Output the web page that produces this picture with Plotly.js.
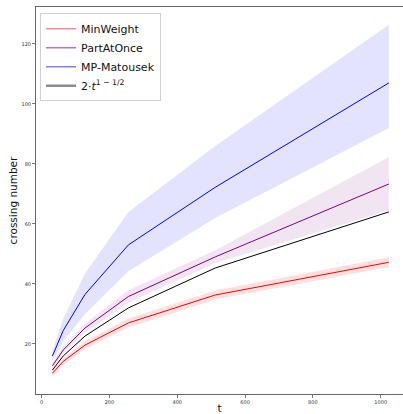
<!DOCTYPE html>
<html>
<head>
<meta charset="utf-8">
<script src="https://cdn.plot.ly/plotly-3.0.1.min.js"></script>
<style>html,body{margin:0;padding:0;background:#fff;}#chart{width:403px;height:414px;}</style>
</head>
<body>
<div id="chart"></div>
<script>
const t = [32, 64, 128, 256, 512, 1024];

const minWeight      = [10.2, 14.2, 19.6, 27.0, 36.3, 47.2];
const minWeightLow   = [8.8, 13.0, 18.3, 25.5, 34.8, 45.6];
const minWeightHigh  = [11.4, 15.4, 20.9, 28.5, 37.8, 48.9];

const partAtOnce     = [12.7, 18.0, 25.3, 35.8, 49.0, 73.3];
const partAtOnceLow  = [11.8, 16.9, 23.8, 33.7, 47.0, 64.5];
const partAtOnceHigh = [13.6, 19.1, 26.8, 37.9, 51.2, 82.3];

const matousek       = [16.0, 24.5, 36.5, 53.0, 72.2, 107.0];
const matousekLow    = [14.2, 20.8, 30.0, 44.2, 62.0, 92.0];
const matousekHigh   = [17.6, 28.5, 43.5, 64.0, 86.0, 126.4];

const bound          = [11.3, 16.0, 22.6, 32.0, 45.3, 64.0];

const names = ['MinWeight', 'PartAtOnce', 'MP-Matousek', '2·<i>t</i><sup>1 − 1/2</sup>'];

function band(lo, hi, fill) {
  return [
    {x: t, y: lo, mode: 'lines', line: {width: 0}, showlegend: false, hoverinfo: 'skip'},
    {x: t, y: hi, mode: 'lines', line: {width: 0}, fill: 'tonexty', fillcolor: fill, showlegend: false, hoverinfo: 'skip'}
  ];
}
function line(y, color) {
  return {x: t, y: y, mode: 'lines', line: {color: color, width: 1}, showlegend: false};
}
function legendItem(name, color, width) {
  return {x: [null], y: [null], mode: 'lines', name: name, line: {color: color, width: width}};
}

const data = [
  ...band(minWeightLow, minWeightHigh, 'rgba(255,0,0,0.12)'),
  ...band(partAtOnceLow, partAtOnceHigh, 'rgba(128,0,128,0.10)'),
  ...band(matousekLow, matousekHigh, 'rgba(0,0,255,0.11)'),
  line(minWeight, '#ff0000'),
  line(partAtOnce, '#800080'),
  line(matousek, '#0000ff'),
  line(bound, '#000000'),
  legendItem(names[0], 'rgba(255,60,60,0.6)', 1.5),
  legendItem(names[1], 'rgba(128,0,160,0.55)', 1.5),
  legendItem(names[2], 'rgba(40,40,255,0.6)', 1.5),
  legendItem(names[3], 'rgba(0,0,0,0.45)', 2.5)
];

const layout = {
  width: 403, height: 414,
  margin: {l: 36, r: 0, t: 7, b: 20},
  paper_bgcolor: '#fff', plot_bgcolor: '#fff',
  font: {family: 'DejaVu Sans', color: '#222'},
  showlegend: true,
  legend: {
    x: 0.011, y: 0.984, xanchor: 'left', yanchor: 'top',
    traceorder: 'normal',
    bgcolor: 'rgba(255,255,255,0.9)', bordercolor: '#d0d0d0', borderwidth: 1,
    font: {size: 11, family: 'DejaVu Sans', color: '#111'},
    itemwidth: 30, tracegroupgap: 0
  },
  xaxis: {
    range: [-16.5, 1065.7],
    tickvals: [0, 200, 400, 600, 800, 1000],
    ticks: 'outside', ticklen: 3, tickcolor: '#555', tickwidth: 0.8,
    tickfont: {size: 5, color: '#333'},
    showline: true, linecolor: '#666', linewidth: 1, mirror: true,
    showgrid: false, zeroline: false,
    title: {text: 't', font: {size: 10.5, color: '#111'}, standoff: 2},
    automargin: false
  },
  yaxis: {
    range: [3.3, 132.3],
    tickvals: [20, 40, 60, 80, 100, 120],
    ticks: 'outside', ticklen: 3, tickcolor: '#555', tickwidth: 0.8,
    tickfont: {size: 5, color: '#333'},
    showline: true, linecolor: '#666', linewidth: 1, mirror: false,
    showgrid: false, zeroline: false,
    title: {text: 'crossing number', font: {size: 10.5, color: '#111'}, standoff: 1},
    automargin: false
  }
};

Plotly.newPlot('chart', data, layout, {displayModeBar: false, staticPlot: true});
</script>
</body>
</html>
